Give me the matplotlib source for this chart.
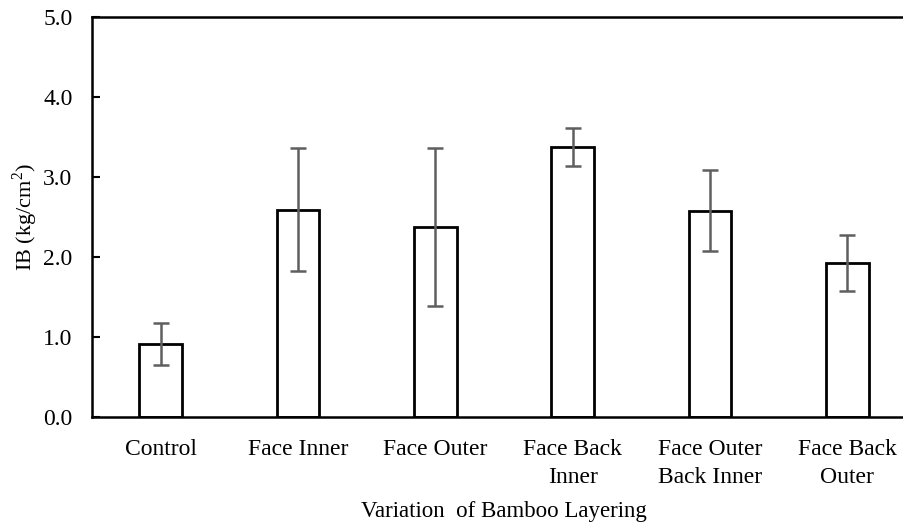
import matplotlib
matplotlib.use("Agg")
from matplotlib import pyplot as plt

# values
categories = ["Control", "Face Inner", "Face Outer", "Face Back\nInner",
              "Face Outer\nBack Inner", "Face Back\nOuter"]
ib_mean = [0.91, 2.59, 2.38, 3.38, 2.58, 1.92]
ib_err = [0.26, 0.77, 0.99, 0.24, 0.51, 0.35]
y_ticks = [0.0, 1.0, 2.0, 3.0, 4.0, 5.0]

plt.rcParams['font.family'] = ['Liberation Serif', 'DejaVu Serif']
plt.rcParams['mathtext.fontset'] = 'custom'
plt.rcParams['mathtext.rm'] = 'Liberation Serif'

fig = plt.figure(figsize=(9.04, 5.22), dpi=100)
W, H = 904, 522
# axes runs past the right edge on purpose (reference is cropped there)
ax = fig.add_axes([92 / W, (H - 416.7) / H, 824 / W, 399.4 / H])

x = list(range(len(categories)))
ax.bar(x, ib_mean, width=0.31, color='white', edgecolor='black', linewidth=2.0, zorder=2)
ax.errorbar(x, ib_mean, yerr=ib_err, fmt='none', ecolor='#5f5f5f',
            elinewidth=1.8, capsize=5.5, capthick=1.8, zorder=3)

ax.set_xlim(-0.5, len(categories) - 0.5)
ax.set_ylim(0, 5)
ax.set_yticks(y_ticks)
ax.set_yticklabels(['%.1f' % v for v in y_ticks])
ax.set_xticks(x)
ax.set_xticklabels(categories, linespacing=1.45)

for s in ax.spines.values():
    s.set_linewidth(1.8)
ax.tick_params(axis='x', length=0, pad=16, labelsize=17)
ax.tick_params(axis='y', direction='in', length=5.5, width=1.5, pad=14, labelsize=17)

ax.set_ylabel('IB (kg/cm$^\\mathregular{2}$)', fontsize=16, labelpad=2)
ax.set_xlabel('Variation  of Bamboo Layering', fontsize=16.5, labelpad=9)

fig.savefig('out.png', dpi=100)
